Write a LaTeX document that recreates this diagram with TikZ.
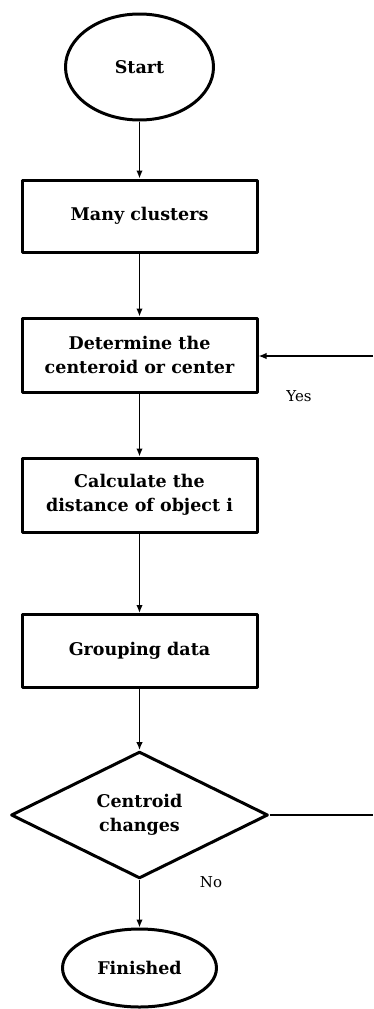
\documentclass[tikz,border=0pt]{standalone}
\usepackage{fontspec}
\setmainfont{DejaVu Serif}
\usetikzlibrary{shapes.geometric,arrows.meta}
\begin{document}
\begin{tikzpicture}[x=1pt,y=-1pt,line join=round,
  >={Latex[length=8pt,width=6.5pt]},
  box/.style={draw,line width=3pt,rectangle,minimum width=235pt,align=center,font=\fontsize{17.5}{24}\selectfont\bfseries},
  term/.style={draw,line width=3pt,ellipse,inner sep=0pt,font=\fontsize{17.5}{20}\selectfont\bfseries},
  decide/.style={draw,line width=3pt,diamond,inner sep=0pt,minimum width=257pt,minimum height=126pt,align=center,font=\fontsize{17.5}{24}\selectfont\bfseries},
  flow/.style={->,line width=1.5pt},
  lbl/.style={font=\fontsize{15}{17}\selectfont}]
\useasboundingbox (0,0) rectangle (373,1009);
\node[term,minimum width=148pt,minimum height=106pt] (start) at (139.5,67) {Start};
\node[box,minimum height=72pt] (clusters) at (139.5,216) {Many clusters};
\node[box,minimum height=74pt] (centroid) at (139.5,355) {Determine the\\centeroid or center};
\node[box,minimum height=74pt] (distance) at (139.5,495) {Calculate the\\distance of object i};
\node[box,minimum height=73pt] (grouping) at (139.5,651) {Grouping data};
\node[decide] (changes) at (139.5,815) {Centroid\\changes};
\node[term,minimum width=154pt,minimum height=78pt] (finished) at (139.5,968) {Finished};
\coordinate (loopin) at (373,356);
\coordinate (loopout) at (373,815);
\draw[flow] (start) -- (clusters);
\draw[flow] (clusters) -- (centroid);
\draw[flow] (centroid) -- (distance);
\draw[flow] (distance) -- (grouping);
\draw[flow] (grouping) -- (changes);
\draw[flow] (changes) -- (finished);
\draw[line width=1.5pt] (changes.east) -- (loopout);
\draw[flow] (loopin) -- (loopin -| centroid.east);
\node[lbl] (yes) at (299,396) {Yes};
\node[lbl] (no) at (211,882) {No};
\end{tikzpicture}
\end{document}
